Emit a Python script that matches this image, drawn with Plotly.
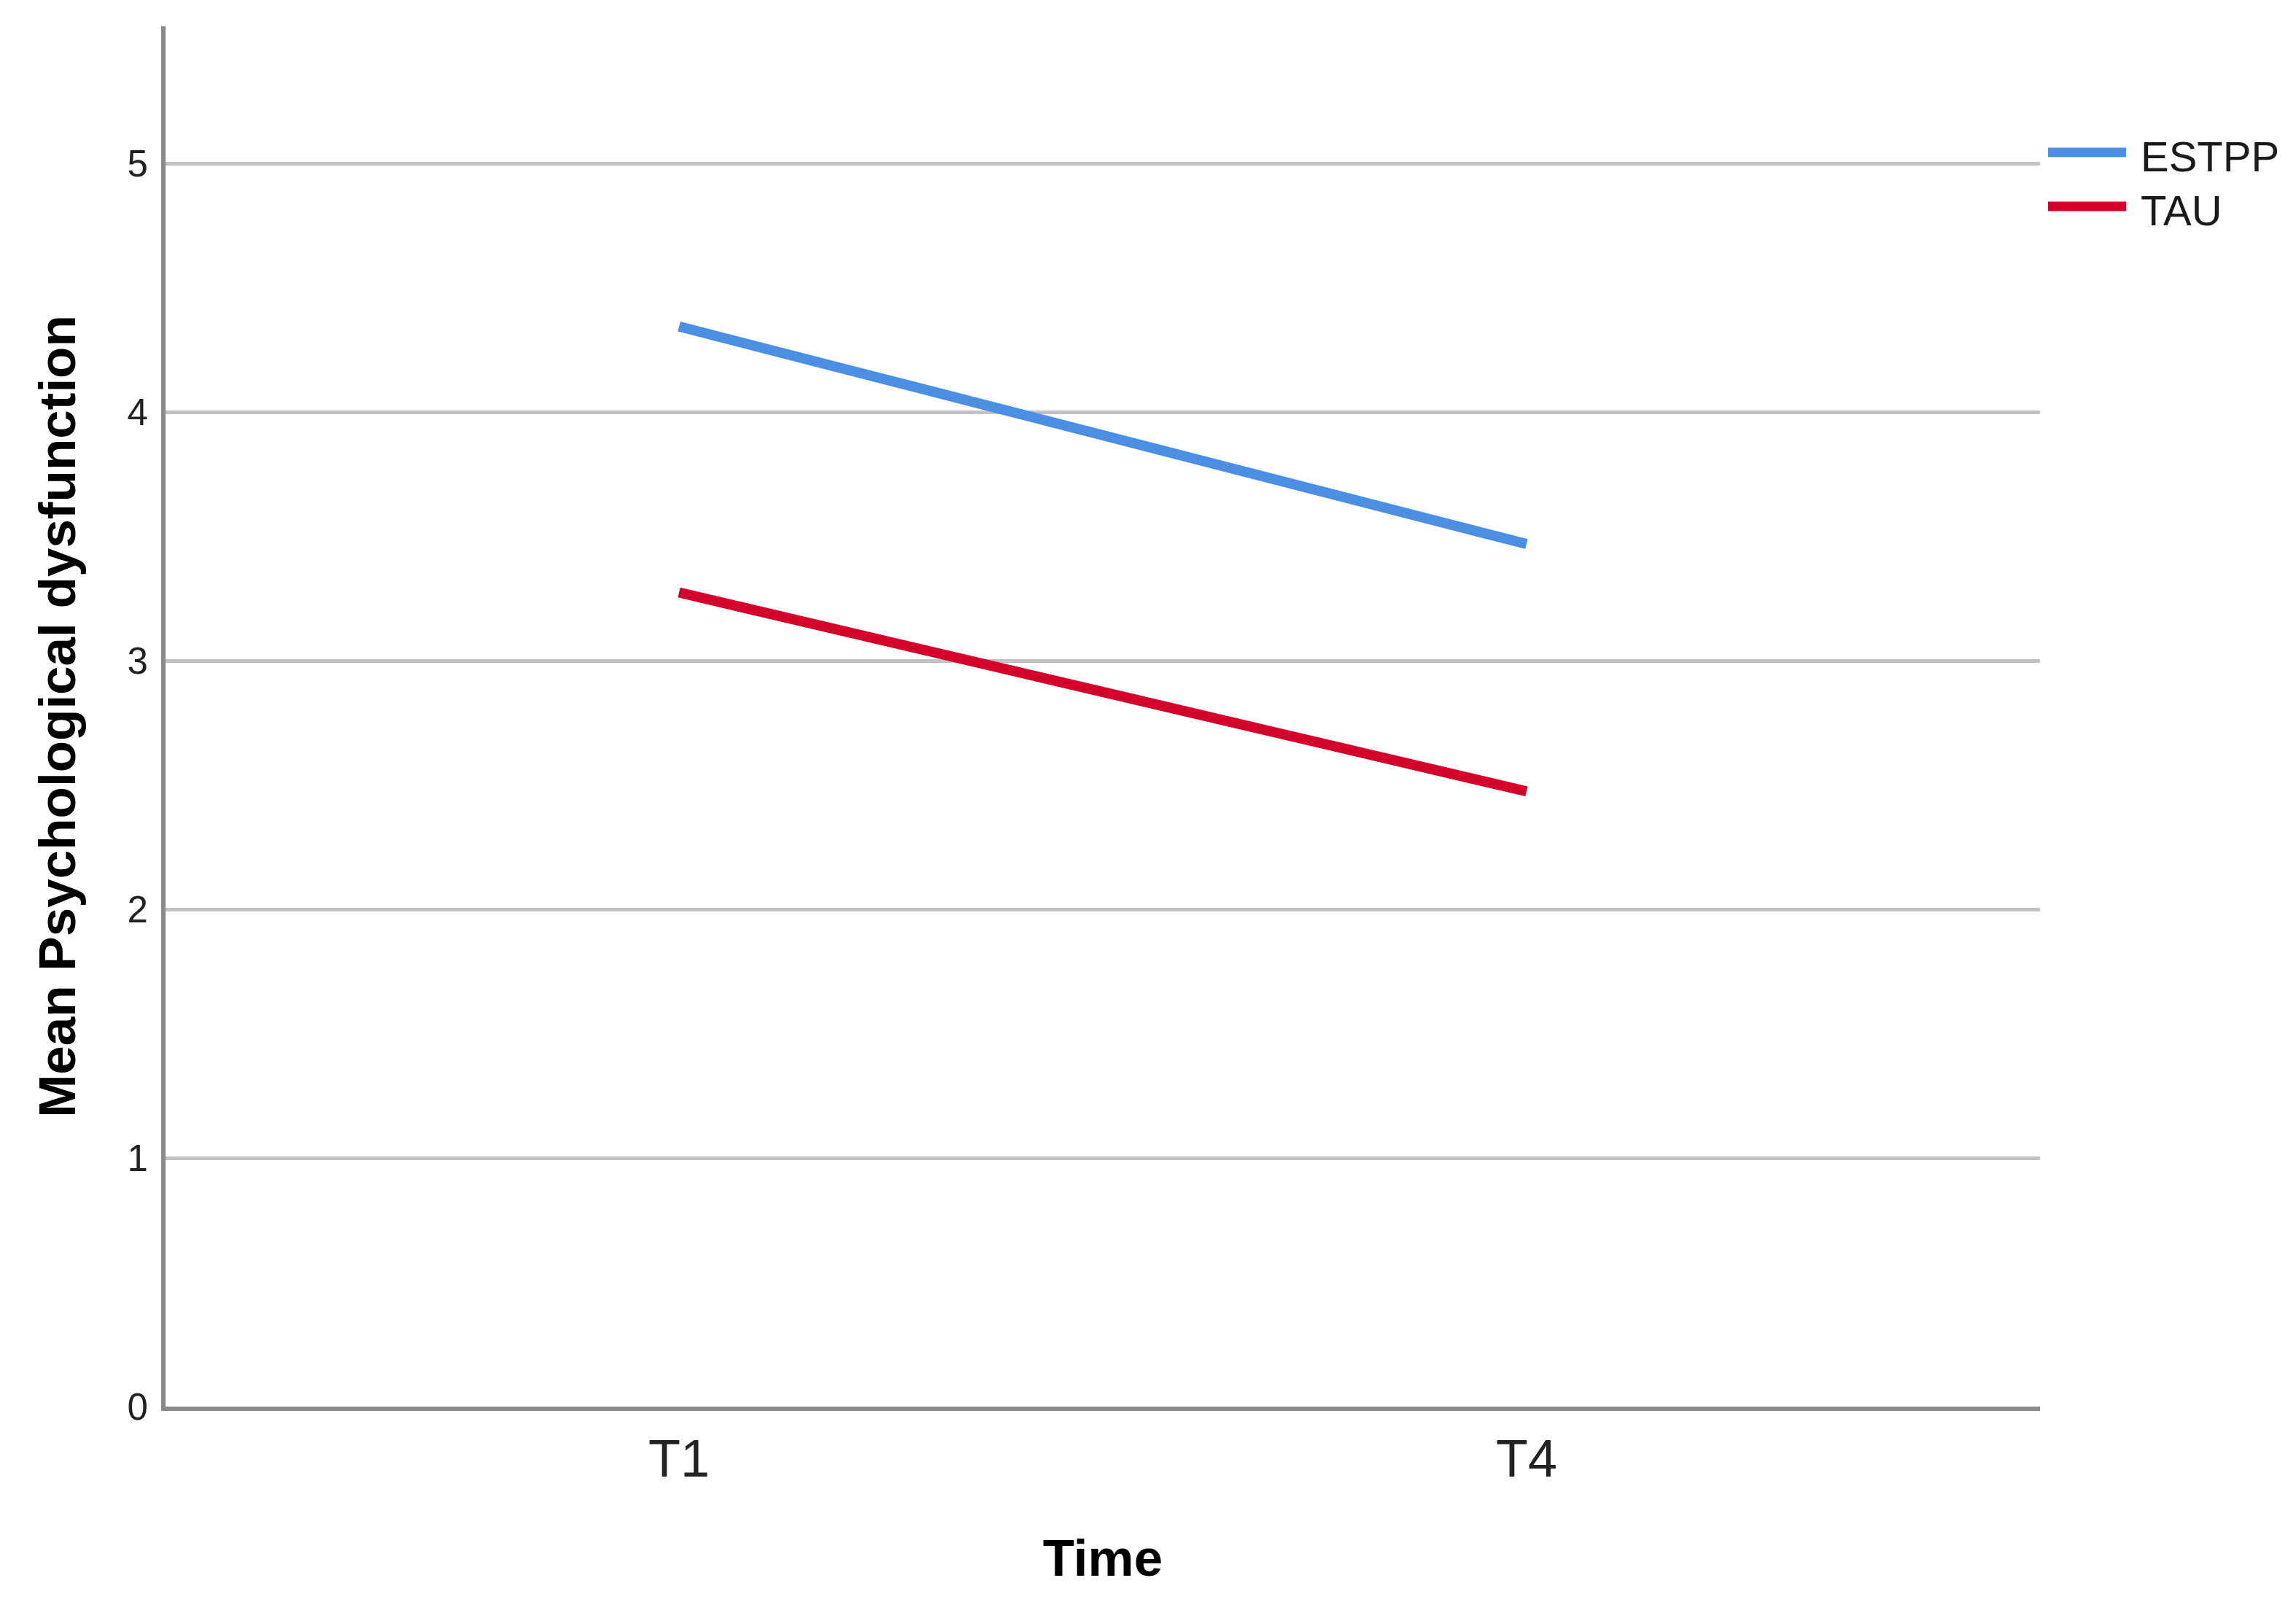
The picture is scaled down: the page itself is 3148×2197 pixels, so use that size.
"""Mean psychological dysfunction by time point and group."""
import plotly.graph_objects as go

# Data
TIME_POINTS = ["T1", "T4"]
GROUPS = ["ESTPP", "TAU"]
ESTPP_MEANS = [4.345, 3.47]
TAU_MEANS = [3.275, 2.475]
Y_TICKS = [0, 1, 2, 3, 4, 5]

GROUP_COLORS = {
    "ESTPP": "#4A8FE2",
    "TAU": "#D3002B",
}

FONT = "Arial, Liberation Sans, sans-serif"
NARROW = "Liberation Sans Narrow, Arial Narrow, Liberation Sans, sans-serif"

fig = go.Figure()

for name, values in zip(GROUPS, [ESTPP_MEANS, TAU_MEANS]):
    fig.add_trace(go.Scatter(
        x=TIME_POINTS,
        y=values,
        name=name,
        mode="lines",
        line=dict(color=GROUP_COLORS[name], width=14),
        showlegend=False,
    ))

# SPSS-style legend with long line samples, drawn by hand
legend_y = [0.9086, 0.8695]
for name, ly in zip(GROUPS, legend_y):
    fig.add_shape(
        type="line", xref="paper", yref="paper",
        x0=1.0043, x1=1.0459, y0=ly, y1=ly,
        line=dict(color=GROUP_COLORS[name], width=13),
    )
    fig.add_annotation(
        xref="paper", yref="paper", x=1.0529, y=ly - 0.003,
        text=name, showarrow=False, xanchor="left", yanchor="middle",
        font=dict(family=FONT, size=58, color="#1a1a1a"),
    )

# page body has an 8px margin, so the figure is a bit smaller than the window
fig.update_layout(
    width=3132,
    height=2181,
    paper_bgcolor="white",
    plot_bgcolor="white",
    margin=dict(l=219, r=343, t=28, b=260),
    xaxis=dict(
        type="category",
        range=[-0.606, 1.606],
        showgrid=False,
        showline=True,
        linecolor="#8a8a8a",
        linewidth=6,
        ticks="",
        ticklabelstandoff=4,
        tickfont=dict(family=NARROW, size=72, color="#222"),
        title=dict(text="<b>Time</b>", standoff=74,
                   font=dict(family=FONT, size=71, color="black")),
        zeroline=False,
    ),
    yaxis=dict(
        range=[0, 5.553],
        tickvals=Y_TICKS,
        showgrid=True,
        gridcolor="#c2c2c2",
        gridwidth=5,
        showline=True,
        linecolor="#8a8a8a",
        linewidth=6,
        ticks="",
        ticklabelstandoff=8,
        tickfont=dict(family=FONT, size=51, color="#222"),
        title=dict(text="<b>Mean Psychological dysfunction</b>", standoff=50,
                   font=dict(family=FONT, size=71, color="black")),
        zeroline=False,
    ),
)

fig.write_html("out.html")
